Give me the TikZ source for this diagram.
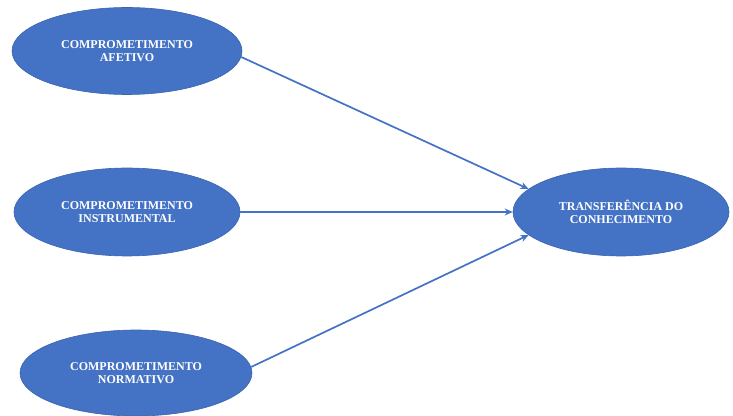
\documentclass[tikz,border=0pt]{standalone}
\usepackage{fontspec}
\setmainfont{Liberation Serif}
\usetikzlibrary{shapes.geometric,arrows.meta}
\definecolor{elblue}{HTML}{4472C4}
\definecolor{eledge}{HTML}{3A64B0}
\begin{document}
\begin{tikzpicture}[x=1pt,y=1pt,
	elnode/.style={ellipse, fill=elblue, draw=eledge, line width=0.6pt, inner sep=0pt, align=center,
		text=white, font=\fontsize{12}{13.5}\selectfont\bfseries},
	arr/.style={-{Stealth[length=8pt,width=7pt]}, elblue, line width=1.7pt}]
	\useasboundingbox (0,0) rectangle (733,415);
	\node[elnode, minimum width=230, minimum height=87] (afetivo) at (127,364) {COMPROMETIMENTO\\AFETIVO};
	\node[elnode, minimum width=226, minimum height=88] (instrumental) at (127,203) {COMPROMETIMENTO\\INSTRUMENTAL};
	\node[elnode, minimum width=232, minimum height=86] (normativo) at (136,42) {COMPROMETIMENTO\\NORMATIVO};
	\node[elnode, minimum width=216, minimum height=88] (transf) at (621,203) {TRANSFERÊNCIA DO\\CONHECIMENTO};
	\draw[arr] (afetivo.-3) -- (transf.166);
	\draw[arr] (instrumental) -- (transf);
	\draw[arr] (normativo.3) -- (transf.194);
\end{tikzpicture}
\end{document}
